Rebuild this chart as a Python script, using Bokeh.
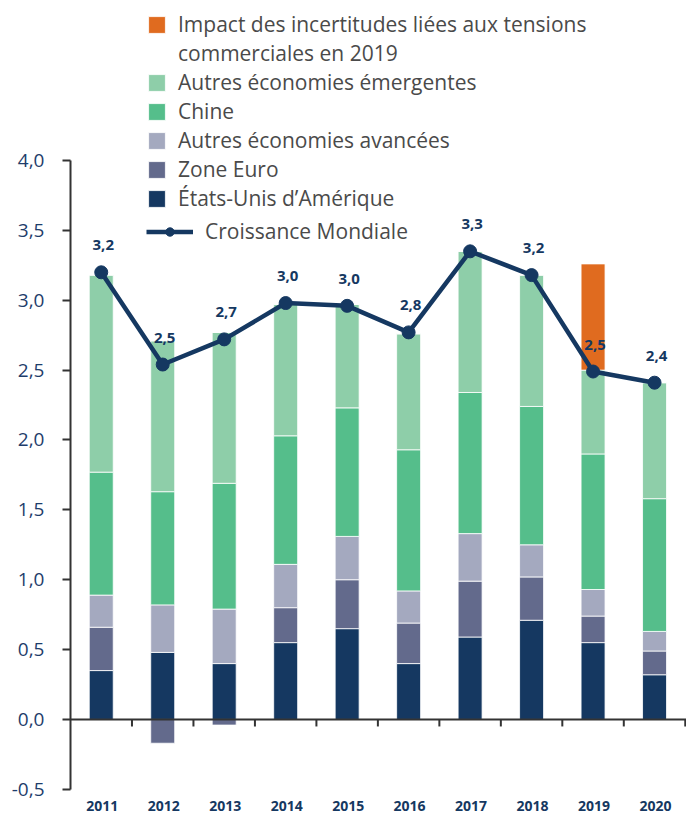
import numpy as np
from bokeh.plotting import figure
from bokeh.models import Range1d, FixedTicker, Legend, LegendItem, Span, ColumnDataSource, LabelSet
from bokeh.core.properties import value
from bokeh.embed import file_html
from bokeh.resources import INLINE

years = ["2011", "2012", "2013", "2014", "2015", "2016", "2017", "2018", "2019", "2020"]
usa = [0.35, 0.48, 0.40, 0.55, 0.65, 0.40, 0.59, 0.71, 0.55, 0.32]
zone_euro = [0.31, -0.17, -0.04, 0.25, 0.35, 0.29, 0.40, 0.31, 0.19, 0.17]
autres_avancees = [0.23, 0.34, 0.39, 0.31, 0.31, 0.23, 0.34, 0.23, 0.19, 0.14]
chine = [0.88, 0.81, 0.90, 0.92, 0.92, 1.01, 1.01, 0.99, 0.97, 0.95]
autres_emergentes = [1.41, 1.08, 1.08, 0.94, 0.74, 0.83, 1.01, 0.94, 0.60, 0.83]
impact = [0, 0, 0, 0, 0, 0, 0, 0, 0.76, 0]
croissance = [3.20, 2.54, 2.72, 2.98, 2.96, 2.77, 3.35, 3.18, 2.49, 2.41]
croissance_labels = ["3,2", "2,5", "2,7", "3,0", "3,0", "2,8", "3,3", "3,2", "2,5", "2,4"]
y_ticks = [-0.5, 0.0, 0.5, 1.0, 1.5, 2.0, 2.5, 3.0, 3.5, 4.0]
y_tick_labels = ["-0,5", "0,0", "0,5", "1,0", "1,5", "2,0", "2,5", "3,0", "3,5", "4,0"]

impact_label_1 = "Impact des incertitudes liées aux tensions"
impact_label_2 = "commerciales en 2019"

series = [
    ("États-Unis d’Amérique", usa, "#153861"),
    ("Zone Euro", zone_euro, "#636a8c"),
    ("Autres économies avancées", autres_avancees, "#a4a9bf"),
    ("Chine", chine, "#55be8b"),
    ("Autres économies émergentes", autres_emergentes, "#8ecea9"),
    (impact_label_1, impact, "#e06b1f"),
]

NAVY = "#153861"
AXIS = "#333333"
FONT = "Open Sans"

n = len(years)
xc = np.arange(n) + 0.5
Y0, Y1 = -0.68, 5.145

p = figure(width=686, height=814, output_backend="svg", toolbar_location=None,
           x_range=Range1d(0, n + 0.02), y_range=Range1d(Y0, Y1),
           min_border_left=70, min_border_right=0, min_border_top=0, min_border_bottom=0)
p.outline_line_color = None
p.xgrid.visible = False
p.ygrid.visible = False
p.background_fill_color = "white"

pos = np.zeros(n)
neg = np.zeros(n)
bar_renderers = {}
for name, vals, color in series:
    v = np.array(vals, dtype=float)
    bottom = np.where(v >= 0, pos, neg)
    top = bottom + v
    pos = np.where(v >= 0, top, pos)
    neg = np.where(v < 0, top, neg)
    src = ColumnDataSource(dict(x=xc, top=top, bottom=bottom))
    r = p.vbar(x="x", top="top", bottom="bottom", width=0.39, source=src,
               fill_color=color, line_color="white", line_width=0.8)
    bar_renderers[name] = r

# invisible renderer for the second line of the first legend entry
blank = p.vbar(x=[], top=[], width=0.39, fill_alpha=0, line_alpha=0)

# x axis line at zero with ticks between categories
p.add_layout(Span(location=0, dimension="width", line_color=AXIS, line_width=2))
bounds = np.arange(1, n + 1)
p.segment(x0=bounds, x1=bounds, y0=np.zeros(n), y1=np.full(n, -0.05),
          line_color=AXIS, line_width=2)

# growth line
lsrc = ColumnDataSource(dict(x=xc, y=croissance, lab=croissance_labels))
lr = p.line("x", "y", source=lsrc, line_color=NAVY, line_width=4.5)
sr = p.scatter("x", "y", source=lsrc, size=13, fill_color=NAVY, line_color=NAVY)
p.text("x", "y", text="lab", source=lsrc, y_offset=-27, x_offset=2,
       text_align="center", text_baseline="middle",
       text_font=value(FONT), text_font_style="bold", text_font_size="15px",
       text_color=NAVY)

# axes
p.yaxis.ticker = FixedTicker(ticks=y_ticks)
p.yaxis.major_label_overrides = {t: l for t, l in zip(y_ticks, y_tick_labels)}
p.yaxis.bounds = (-0.5, 4.0)
p.yaxis.axis_line_color = AXIS
p.yaxis.axis_line_width = 2
p.yaxis.major_tick_line_color = AXIS
p.yaxis.major_tick_line_width = 2
p.yaxis.major_tick_out = 8
p.yaxis.major_tick_in = 0
p.yaxis.minor_tick_line_color = None
p.yaxis.major_label_standoff = 18
p.yaxis.major_label_text_font = FONT
p.yaxis.major_label_text_font_size = "19px"
p.yaxis.major_label_text_color = "#1e3d6b"

p.xaxis.visible = False

# year labels under the plot
ysrc = ColumnDataSource(dict(x=xc, y=np.full(n, -0.5), year=years))
p.add_layout(LabelSet(x="x", y="y", text="year", source=ysrc, y_offset=-17, x_offset=1,
                      text_align="center", text_baseline="middle",
                      text_font=value(FONT), text_font_style="bold",
                      text_font_size="14px", text_color=NAVY))

# legends
order = [series[4][0], series[3][0], series[2][0], series[1][0], series[0][0]]
items = [LegendItem(label=impact_label_1, renderers=[bar_renderers[impact_label_1]]),
         LegendItem(label=impact_label_2, renderers=[blank])]
items += [LegendItem(label=nm, renderers=[bar_renderers[nm]]) for nm in order]
common = dict(padding=0, margin=0, border_line_color=None, background_fill_alpha=0,
              label_text_font=FONT, label_text_font_size="21px", label_text_color="#4a4a4a",
              glyph_height=21, label_height=21)
leg1 = Legend(items=items, location=(76, 602), glyph_width=21, label_standoff=11,
              spacing=1, **common)
leg2 = Legend(items=[LegendItem(label="Croissance Mondiale", renderers=[lr, sr])],
              location=(76, 569), glyph_width=47, label_standoff=12, spacing=0, **common)
p.add_layout(leg1)
p.add_layout(leg2)

open("out.html", "w").write(file_html(p, INLINE))
